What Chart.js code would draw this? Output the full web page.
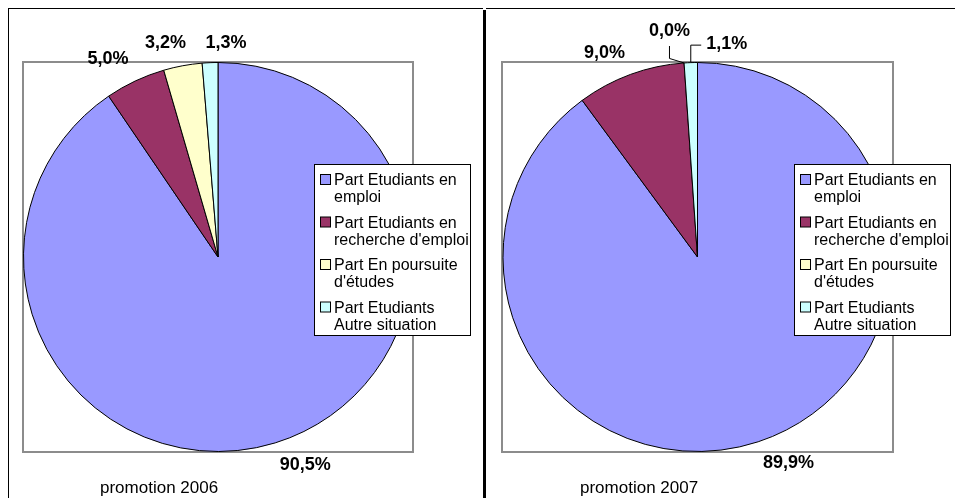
<!DOCTYPE html>
<html>
<head>
<meta charset="utf-8">
<script src="https://cdn.jsdelivr.net/npm/chart.js@4.4.0/dist/chart.umd.min.js"></script>
<style>
  body { margin: 0; background: #fff; width: 955px; height: 498px; overflow: hidden; position: relative; }
  canvas { position: absolute; top: 0; }
  .ln { position: absolute; background: #000; }
</style>
</head>
<body>
<canvas id="c2006" width="480" height="498" style="left:0"></canvas>
<canvas id="c2007" width="475" height="498" style="left:480px"></canvas>
<div class="ln" style="left:8px;top:8px;width:475px;height:1px"></div>
<div class="ln" style="left:8px;top:8px;width:1px;height:490px"></div>
<div class="ln" style="left:483px;top:10px;width:3px;height:488px"></div>
<div class="ln" style="left:486px;top:8px;width:469px;height:1px"></div>
<script>
// data
const categories = [
  'Part Etudiants en emploi',
  "Part Etudiants en recherche d'emploi",
  "Part En poursuite d'études",
  'Part Etudiants Autre situation'
];
const values2006 = [90.5, 5.0, 3.2, 1.3];
const values2007 = [89.9, 9.0, 0.0, 1.1];
const captions = ['promotion 2006', 'promotion 2007'];
const sliceColors = ['#9999FF', '#993366', '#FFFFCC', '#CCFFFF'];

const FONT = '"Liberation Sans", Arial, sans-serif';

function fmtPct(v) {
  return v.toFixed(1).replace('.', ',') + '%';
}

function wrapText(ctx, text, maxW) {
  const words = text.split(' ');
  const lines = [];
  let cur = '';
  for (const w of words) {
    const test = cur ? cur + ' ' + w : w;
    if (cur && ctx.measureText(test).width > maxW) {
      lines.push(cur);
      cur = w;
    } else {
      cur = test;
    }
  }
  if (cur) lines.push(cur);
  return lines;
}

// plot area frame, legend box, percent labels and caption
const panelDecor = {
  id: 'panelDecor',
  beforeDatasetsDraw(chart) {
    const ctx = chart.ctx, a = chart.chartArea;
    ctx.save();
    ctx.strokeStyle = '#8c8c8c';
    ctx.lineWidth = 2;
    ctx.strokeRect(a.left, a.top, a.right - a.left, a.bottom - a.top);
    ctx.restore();
  },
  afterDatasetsDraw(chart, args, opts) {
    const ctx = chart.ctx;
    const ds = chart.data.datasets[0];
    ctx.save();

    // legend
    const lg = opts.legend;
    ctx.fillStyle = '#fff';
    ctx.fillRect(lg.x, lg.y, lg.w, lg.h);
    ctx.strokeStyle = '#000';
    ctx.lineWidth = 1;
    ctx.strokeRect(lg.x + 0.5, lg.y + 0.5, lg.w, lg.h);
    ctx.font = '16px ' + FONT;
    ctx.textBaseline = 'alphabetic';
    chart.data.labels.forEach((lab, i) => {
      const base = lg.y + lg.firstBase + i * lg.itemStep;
      ctx.fillStyle = ds.backgroundColor[i];
      ctx.fillRect(lg.x + 6.5, base - 10.5, 10, 10);
      ctx.strokeStyle = '#000';
      ctx.strokeRect(lg.x + 6.5, base - 10.5, 10, 10);
      ctx.fillStyle = '#000';
      wrapText(ctx, lab, lg.textMax).forEach((ln, k) => {
        ctx.fillText(ln, lg.x + 20, base + k * lg.lineStep);
      });
    });

    // percent labels
    ctx.font = 'bold 18px ' + FONT;
    ctx.textBaseline = 'middle';
    ctx.textAlign = 'left';
    const meta = chart.getDatasetMeta(0);
    const h = 14;
    meta.data.forEach((arc, i) => {
      const p = arc.getProps(['x', 'y', 'startAngle', 'endAngle', 'outerRadius'], true);
      const mid = (p.startAngle + p.endAngle) / 2;
      const c = Math.cos(mid), s = Math.sin(mid);
      const R = p.outerRadius + opts.labelGap;
      const ax = p.x + R * c, ay = p.y + R * s;
      const text = fmtPct(ds.data[i]);
      const w = ctx.measureText(text).width;
      const nudge = opts.nudges[i] || [0, 0];
      const left = (c >= 0 ? ax : ax - w) + nudge[0];
      const top = (s >= 0 ? ay : ay - h) + nudge[1];
      ctx.fillStyle = '#000';
      ctx.fillText(text, left, top + h / 2);

      if (opts.leaders[i]) {
        const px = p.x + p.outerRadius * c, py = p.y + p.outerRadius * s;
        ctx.strokeStyle = '#000';
        ctx.lineWidth = 1;
        ctx.beginPath();
        if (px < left) {
          const my = top + h / 2 + 1;
          ctx.moveTo(px, py);
          ctx.lineTo(px, my);
          ctx.lineTo(left - 5, my);
        } else {
          const cx = left + w / 2;
          ctx.moveTo(cx, top + h + 8);
          ctx.lineTo(cx, py - 4.5);
          ctx.lineTo(px, py);
        }
        ctx.stroke();
      }
    });

    // caption
    ctx.font = '17px ' + FONT;
    ctx.textBaseline = 'alphabetic';
    ctx.fillStyle = '#000';
    ctx.fillText(opts.caption, opts.captionX, opts.captionY);
    ctx.restore();
  }
};

function makePie(id, values, caption, padLeft, padRight, nudges, leaders) {
  return new Chart(document.getElementById(id), {
    type: 'pie',
    data: {
      labels: categories,
      datasets: [{
        data: values,
        backgroundColor: sliceColors,
        borderColor: '#000',
        borderWidth: 1,
        hoverOffset: 0,
        offset: 0
      }]
    },
    options: {
      responsive: false,
      animation: false,
      events: [],
      layout: { padding: { left: padLeft, right: padRight, top: 62, bottom: 46 } },
      plugins: {
        legend: { display: false },
        tooltip: { enabled: false },
        panelDecor: {
          caption: caption,
          captionX: 100,
          captionY: 493,
          labelGap: 15.5,
          nudges: nudges,
          leaders: leaders,
          legend: { x: 314, y: 164, w: 156, h: 171, firstBase: 21, itemStep: 42.5, lineStep: 17, textMax: 138 }
        }
      }
    },
    plugins: [panelDecor]
  });
}

makePie('c2006', values2006, captions[0], 23, 67,
  [[0, 0], [0, -1], [6, 0], [37, 3]],
  [false, false, false, false]);

makePie('c2007', values2007, captions[1], 22, 62,
  [[0, 0], [0, 0], [7, -9.5], [57, 4]],
  [false, false, true, true]);
</script>
</body>
</html>
